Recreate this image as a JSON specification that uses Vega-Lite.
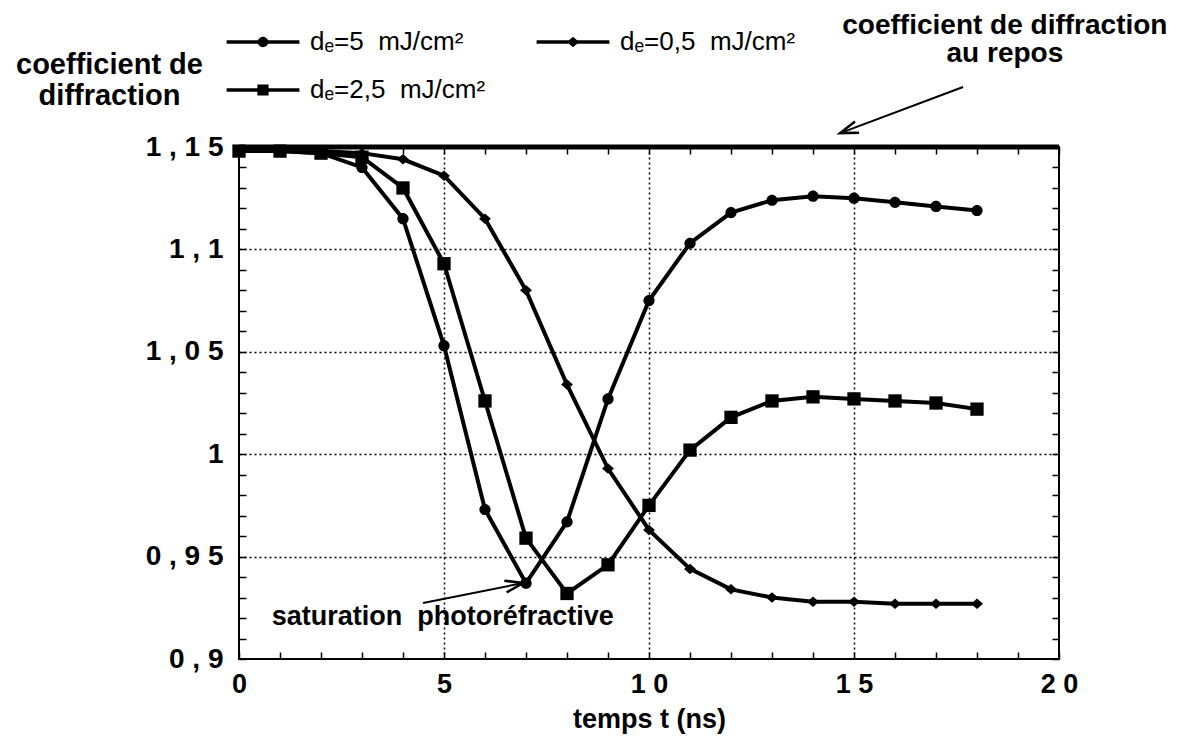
{
  "$schema": "https://vega.github.io/schema/vega-lite/v6.json",
  "width": 820,
  "height": 512,
  "autosize": {"type": "none"},
  "padding": {"left": 239, "top": 147, "right": 141, "bottom": 84},
  "background": "white",
  "config": {
    "font": "Liberation Sans",
    "view": {"stroke": "black", "strokeWidth": 2},
    "axis": {"labelColor": "black", "titleColor": "black", "tickColor": "black"}
  },
  "data": {
    "values": [
      {"t": 0, "v": 1.148, "s": "5"}, {"t": 1, "v": 1.148, "s": "5"}, {"t": 2, "v": 1.147, "s": "5"},
      {"t": 3, "v": 1.140, "s": "5"}, {"t": 4, "v": 1.115, "s": "5"}, {"t": 5, "v": 1.053, "s": "5"},
      {"t": 6, "v": 0.973, "s": "5"}, {"t": 7, "v": 0.937, "s": "5"}, {"t": 8, "v": 0.967, "s": "5"},
      {"t": 9, "v": 1.027, "s": "5"}, {"t": 10, "v": 1.075, "s": "5"}, {"t": 11, "v": 1.103, "s": "5"},
      {"t": 12, "v": 1.118, "s": "5"}, {"t": 13, "v": 1.124, "s": "5"}, {"t": 14, "v": 1.126, "s": "5"},
      {"t": 15, "v": 1.125, "s": "5"}, {"t": 16, "v": 1.123, "s": "5"}, {"t": 17, "v": 1.121, "s": "5"},
      {"t": 18, "v": 1.119, "s": "5"},
      {"t": 0, "v": 1.148, "s": "2,5"}, {"t": 1, "v": 1.148, "s": "2,5"}, {"t": 2, "v": 1.147, "s": "2,5"},
      {"t": 3, "v": 1.145, "s": "2,5"}, {"t": 4, "v": 1.130, "s": "2,5"}, {"t": 5, "v": 1.093, "s": "2,5"},
      {"t": 6, "v": 1.026, "s": "2,5"}, {"t": 7, "v": 0.959, "s": "2,5"}, {"t": 8, "v": 0.932, "s": "2,5"},
      {"t": 9, "v": 0.946, "s": "2,5"}, {"t": 10, "v": 0.975, "s": "2,5"}, {"t": 11, "v": 1.002, "s": "2,5"},
      {"t": 12, "v": 1.018, "s": "2,5"}, {"t": 13, "v": 1.026, "s": "2,5"}, {"t": 14, "v": 1.028, "s": "2,5"},
      {"t": 15, "v": 1.027, "s": "2,5"}, {"t": 16, "v": 1.026, "s": "2,5"}, {"t": 17, "v": 1.025, "s": "2,5"},
      {"t": 18, "v": 1.022, "s": "2,5"},
      {"t": 0, "v": 1.148, "s": "0,5"}, {"t": 1, "v": 1.148, "s": "0,5"}, {"t": 2, "v": 1.148, "s": "0,5"},
      {"t": 3, "v": 1.147, "s": "0,5"}, {"t": 4, "v": 1.144, "s": "0,5"}, {"t": 5, "v": 1.136, "s": "0,5"},
      {"t": 6, "v": 1.115, "s": "0,5"}, {"t": 7, "v": 1.080, "s": "0,5"}, {"t": 8, "v": 1.034, "s": "0,5"},
      {"t": 9, "v": 0.993, "s": "0,5"}, {"t": 10, "v": 0.963, "s": "0,5"}, {"t": 11, "v": 0.944, "s": "0,5"},
      {"t": 12, "v": 0.934, "s": "0,5"}, {"t": 13, "v": 0.930, "s": "0,5"}, {"t": 14, "v": 0.928, "s": "0,5"},
      {"t": 15, "v": 0.928, "s": "0,5"}, {"t": 16, "v": 0.927, "s": "0,5"}, {"t": 17, "v": 0.927, "s": "0,5"},
      {"t": 18, "v": 0.927, "s": "0,5"}
    ]
  },
  "layer": [
    {
      "mark": {"type": "line", "color": "black", "strokeWidth": 4},
      "encoding": {
        "x": {
          "field": "t", "type": "quantitative",
          "scale": {"domain": [0, 20], "nice": false, "zero": false},
          "axis": {
            "orient": "bottom",
            "values": [0,1,2,3,4,5,6,7,8,9,10,11,12,13,14,15,16,17,18,19,20],
            "labelExpr": "datum.value == 0 ? '0' : datum.value == 5 ? '5' : datum.value == 10 ? '1 0' : datum.value == 15 ? '1 5' : datum.value == 20 ? '2 0' : ''",
            "labelFontSize": 27, "labelFontWeight": "bold", "labelPadding": 19,
            "labelOverlap": false, "labelFlush": false, "labelBound": false,
            "domain": false,
            "ticks": true, "tickSize": -7, "tickWidth": 1.5,
            "grid": true, "gridColor": "black", "gridDash": [2, 3], "gridWidth": 1.5,
            "gridOpacity": {"condition": {"test": "datum.value == 5 || datum.value == 10 || datum.value == 15", "value": 1}, "value": 0},
            "title": "temps t (ns)", "titleFontSize": 27, "titleFontWeight": "bold", "titlePadding": 9
          }
        },
        "y": {
          "field": "v", "type": "quantitative",
          "scale": {"domain": [0.9, 1.15], "nice": false, "zero": false},
          "axis": {
            "orient": "left",
            "values": [0.9,0.91,0.92,0.93,0.94,0.95,0.96,0.97,0.98,0.99,1.0,1.01,1.02,1.03,1.04,1.05,1.06,1.07,1.08,1.09,1.1,1.11,1.12,1.13,1.14,1.15],
            "labelExpr": "round(datum.value*100)==115 ? '1 , 1 5' : round(datum.value*100)==110 ? '1 , 1' : round(datum.value*100)==105 ? '1 , 0 5' : round(datum.value*100)==100 ? '1' : round(datum.value*100)==95 ? '0 , 9 5' : round(datum.value*100)==90 ? '0 , 9' : ''",
            "labelFontSize": 28, "labelFontWeight": "bold", "labelPadding": 23,
            "labelOverlap": false, "labelFlush": false, "labelBound": false,
            "domain": false,
            "ticks": true, "tickSize": -7, "tickWidth": 1.5,
            "grid": true, "gridColor": "black", "gridDash": [2, 3], "gridWidth": 1.5,
            "gridOpacity": {"condition": {"test": "round(datum.value*100) % 5 == 0 && datum.value > 0.905 && datum.value < 1.145", "value": 1}, "value": 0},
            "title": ["coefficient de", "diffraction"],
            "titleFontSize": 29, "titleFontWeight": "bold",
            "titleAngle": 0, "titleAlign": "center", "titleBaseline": "alphabetic",
            "titleX": -130, "titleY": -74, "titleLineHeight": 31
          }
        },
        "detail": {"field": "s"}
      }
    },
    {
      "mark": {"type": "point", "filled": true, "color": "black", "opacity": 1, "size": 196},
      "encoding": {
        "x": {
          "field": "t", "type": "quantitative",
          "axis": {
            "orient": "top",
            "values": [0,1,2,3,4,5,6,7,8,9,10,11,12,13,14,15,16,17,18,19,20],
            "labels": false, "domain": false, "grid": false, "title": null,
            "ticks": true, "tickSize": -7, "tickWidth": 1.5
          }
        },
        "y": {
          "field": "v", "type": "quantitative",
          "axis": {
            "orient": "right",
            "values": [0.9,0.91,0.92,0.93,0.94,0.95,0.96,0.97,0.98,0.99,1.0,1.01,1.02,1.03,1.04,1.05,1.06,1.07,1.08,1.09,1.1,1.11,1.12,1.13,1.14,1.15],
            "labels": false, "domain": false, "grid": false, "title": null,
            "ticks": true, "tickSize": -7, "tickWidth": 1.5
          }
        },
        "shape": {
          "field": "s", "type": "nominal",
          "scale": {
            "domain": ["5", "0,5", "2,5"],
            "range": [
              "M-0.8,0A0.8,0.8,0,1,1,0.8,0A0.8,0.8,0,1,1,-0.8,0Z",
              "M0,-0.75L0.85,0L0,0.75L-0.85,0Z",
              "M-0.95,-0.95H0.95V0.95H-0.95Z"
            ]
          },
          "legend": null
        }
      }
    },
    {
      "mark": {"type": "point", "filled": true, "fill": "black", "opacity": 1, "size": 0},
      "encoding": {
        "x": {"field": "t", "type": "quantitative", "axis": null},
        "y": {"field": "v", "type": "quantitative", "axis": null},
        "shape": {
          "field": "s", "type": "nominal",
          "scale": {
            "domain": ["5", "0,5", "2,5"],
            "range": [
              "M-2.8,-0.13H2.8V0.13H-2.8ZM-0.4,0A0.4,0.4,0,1,1,0.4,0A0.4,0.4,0,1,1,-0.4,0Z",
              "M-2.8,-0.13H2.8V0.13H-2.8ZM0,-0.4L0.47,0L0,0.4L-0.47,0Z",
              "M-2.8,-0.13H2.8V0.13H-2.8ZM-0.43,-0.43H0.43V0.43H-0.43Z"
            ]
          },
          "legend": {
            "orient": "none", "legendX": 10, "legendY": -119,
            "columns": 2, "direction": "horizontal", "title": null, "padding": 0,
            "labelExpr": "'dₑ=' + datum.label + '\u00a0\u00a0mJ/cm²'",
            "labelFont": "Liberation Sans", "labelFontSize": 26, "labelColor": "black",
            "labelOffset": 33, "labelLimit": 400,
            "rowPadding": 21, "columnPadding": 47,
            "symbolSize": 676, "symbolFillColor": "black", "symbolOpacity": 1,
            "encode": {
              "symbols": {
                "update": {
                  "size": {"value": 676},
                  "fill": {"value": "black"},
                  "opacity": {"value": 1}
                }
              }
            }
          }
        }
      }
    },
    {
      "data": {"values": [{}]},
      "mark": {"type": "rule", "color": "black", "strokeWidth": 5},
      "encoding": {"y": {"datum": 1.15, "type": "quantitative", "axis": null}}
    },
    {
      "data": {"values": [{}]},
      "mark": {"type": "rule", "color": "black", "strokeWidth": 2},
      "encoding": {
        "x": {"datum": 17.66, "type": "quantitative", "axis": null},
        "y": {"datum": 1.1793, "type": "quantitative", "axis": null},
        "x2": {"datum": 14.66},
        "y2": {"datum": 1.1568}
      }
    },
    {
      "data": {"values": [{}]},
      "mark": {"type": "point", "shape": "M-0.6,1.8L0,0L0.6,1.8", "size": 400, "angle": 250.5, "filled": false, "stroke": "black", "strokeWidth": 2.5, "opacity": 1},
      "encoding": {
        "x": {"datum": 14.66, "type": "quantitative", "axis": null},
        "y": {"datum": 1.1568, "type": "quantitative", "axis": null}
      }
    },
    {
      "data": {"values": [{}]},
      "mark": {"type": "rule", "color": "black", "strokeWidth": 2},
      "encoding": {
        "x": {"datum": 4.49, "type": "quantitative", "axis": null},
        "y": {"datum": 0.9273, "type": "quantitative", "axis": null},
        "x2": {"datum": 6.93},
        "y2": {"datum": 0.9371}
      }
    },
    {
      "data": {"values": [{}]},
      "mark": {"type": "point", "shape": "M-0.6,1.8L0,0L0.6,1.8", "size": 400, "angle": 78.7, "filled": false, "stroke": "black", "strokeWidth": 2.5, "opacity": 1},
      "encoding": {
        "x": {"datum": 6.93, "type": "quantitative", "axis": null},
        "y": {"datum": 0.9371, "type": "quantitative", "axis": null}
      }
    },
    {
      "data": {"values": [{}]},
      "mark": {"type": "text", "align": "center", "baseline": "alphabetic", "fontSize": 28, "fontWeight": "bold", "lineHeight": 28, "color": "black"},
      "encoding": {
        "x": {"datum": 18.68, "type": "quantitative", "axis": null},
        "y": {"datum": 1.2052, "type": "quantitative", "axis": null},
        "text": {"value": ["coefficient de diffraction", "au repos"]}
      }
    },
    {
      "data": {"values": [{}]},
      "mark": {"type": "text", "align": "left", "baseline": "alphabetic", "fontSize": 27, "fontWeight": "bold", "color": "black"},
      "encoding": {
        "x": {"datum": 0.8, "type": "quantitative", "axis": null},
        "y": {"datum": 0.9166, "type": "quantitative", "axis": null},
        "text": {"value": "saturation\u00a0\u00a0photoréfractive"}
      }
    }
  ],
  "resolve": {
    "axis": {"x": "independent", "y": "independent"},
    "scale": {"shape": "independent"}
  }
}
